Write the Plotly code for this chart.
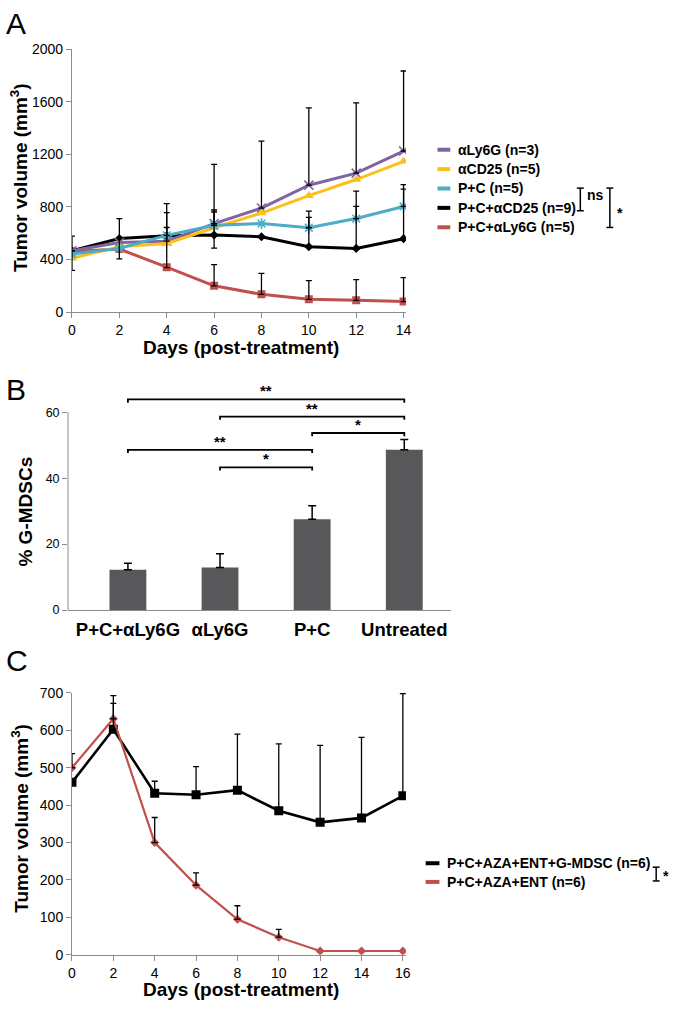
import plotly.graph_objects as go

W, H = 674, 1010
FONT = "Liberation Sans, Arial, Helvetica, sans-serif"
AXIS_GREY = "#8c8c8c"
PURPLE = "#8064a2"
YELLOW = "#fdbf1a"
CYAN = "#4bacc6"
BLACK = "#000000"
RED = "#c0504d"
BAR_GREY = "#58585a"

# ---- panel A: tumour volume, depletion experiment ----
days_a = [0, 2, 4, 6, 8, 10, 12, 14]
names_a = ["αLy6G (n=3)", "αCD25 (n=5)", "P+C (n=5)", "P+C+αCD25 (n=9)", "P+C+αLy6G (n=5)"]
ly6g = [467, 530, 540, 674, 792, 966, 1058, 1226]
cd25 = [410, 497, 522, 642, 754, 886, 1009, 1148]
pc = [442, 485, 584, 661, 674, 642, 712, 804]
pc_cd25 = [467, 560, 582, 587, 574, 497, 485, 559]
pc_ly6g = [462, 480, 342, 200, 135, 97, 90, 80]

ly6g_err = [112, None, 217, 450, 509, 589, 535, 609]
pc_err = [None, None, 60, 116, None, 79, 92, 132]
pc_cd25_err = [None, 152, 244, 175, None, 272, 436, 412]
pc_cd25_err_minus = [150, 155, 244, 100, None, None, None, None]
pc_ly6g_err = [None, None, None, 162, 159, 143, 157, 182]

# ---- panel B: % G-MDSCs ----
groups_b = ["P+C+αLy6G", "αLy6G", "P+C", "Untreated"]
gmdsc = [12.2, 12.9, 27.5, 48.6]
gmdsc_err = [2.0, 4.2, 4.1, 3.1]
sig_left = [0, 1, 2, 0, 1]
sig_right = [3, 3, 3, 2, 2]
sig_height = [63.9, 58.7, 53.7, 48.6, 43.3]
sig_label = ["**", "**", "*", "**", "*"]

# ---- panel C: G-MDSC add-back ----
days_c = [0, 2, 4, 6, 8, 10, 12, 14, 16]
names_c = ["P+C+AZA+ENT+G-MDSC (n=6)", "P+C+AZA+ENT (n=6)"]
addback = [461, 603, 432, 428, 440, 385, 354, 366, 425]
addback_err = [None, 90, 32, 75, 150, 179, 206, 215, 273]
aza_ent = [500, 631, 300, 186, 95, 47, 10, 10, 10]
aza_ent_err = [38, 41, 67, 33, 36, 21, None, None, None]


def px(x):
    return x / W


def py(y):
    return 1 - y / H


def err_trace(xs, ys, up, down, xaxis, yaxis, width=3):
    # only the points that actually carry a bar, so no stray caps
    keep = [i for i in range(len(xs))
            if up[i] is not None or (down is not None and down[i] is not None)]
    plus = [up[i] or 0 for i in keep]
    minus = [(down[i] or 0) if down is not None else 0 for i in keep]
    return go.Scatter(
        x=[xs[i] for i in keep], y=[ys[i] for i in keep],
        mode="markers", marker=dict(size=1, opacity=0),
        error_y=dict(type="data", array=plus, arrayminus=minus, symmetric=False,
                     color=BLACK, thickness=1.3, width=width),
        xaxis=xaxis, yaxis=yaxis, showlegend=False, hoverinfo="skip",
    )


fig = go.Figure()

# panel A lines (bottom to top)
series_a = [
    (names_a[4], pc_ly6g, RED, "square", 8, 0),
    (names_a[3], pc_cd25, BLACK, "diamond", 7, 0),
    (names_a[0], ly6g, PURPLE, "x-thin-open", 9, 1.6),
    (names_a[1], cd25, YELLOW, "triangle-up", 9, 0),
    (names_a[2], pc, CYAN, "asterisk-open", 9, 1.6),
]
for name, vals, color, symbol, size, lw in series_a:
    fig.add_trace(go.Scatter(
        x=days_a, y=vals, name=name, mode="lines+markers",
        line=dict(color=color, width=3),
        marker=dict(symbol=symbol, size=size, color=color,
                    line=dict(color=color, width=lw)),
        xaxis="x", yaxis="y", showlegend=False,
    ))

fig.add_trace(err_trace(days_a, ly6g, ly6g_err, None, "x", "y"))
fig.add_trace(err_trace(days_a, pc, pc_err, None, "x", "y"))
fig.add_trace(err_trace(days_a, pc_cd25, pc_cd25_err, pc_cd25_err_minus, "x", "y"))
fig.add_trace(err_trace(days_a, pc_ly6g, pc_ly6g_err, None, "x", "y"))

# panel B bars
fig.add_trace(go.Bar(
    x=groups_b, y=gmdsc, width=0.4, marker=dict(color=BAR_GREY, line_width=0),
    xaxis="x2", yaxis="y2", showlegend=False,
))
fig.add_trace(go.Scatter(
    x=groups_b, y=gmdsc, mode="markers", marker=dict(size=1, opacity=0),
    error_y=dict(type="data", array=gmdsc_err, arrayminus=[0] * len(gmdsc),
                 symmetric=False, color=BLACK, thickness=1.5, width=4),
    xaxis="x2", yaxis="y2", showlegend=False, hoverinfo="skip",
))
for l, r, h in zip(sig_left, sig_right, sig_height):
    fig.add_trace(go.Scatter(
        x=[groups_b[l], groups_b[l], groups_b[r], groups_b[r]],
        y=[h - 1.0, h, h, h - 1.0], mode="lines",
        line=dict(color=BLACK, width=1.8), xaxis="x2", yaxis="y2",
        showlegend=False, hoverinfo="skip",
    ))

# panel C lines
fig.add_trace(go.Scatter(
    x=days_c, y=addback, name=names_c[0], mode="lines+markers",
    line=dict(color=BLACK, width=2.6), marker=dict(symbol="square", size=9, color=BLACK),
    xaxis="x3", yaxis="y3", showlegend=False,
))
fig.add_trace(go.Scatter(
    x=days_c, y=aza_ent, name=names_c[1], mode="lines+markers",
    line=dict(color=RED, width=2.2), marker=dict(symbol="diamond", size=7, color=RED),
    xaxis="x3", yaxis="y3", showlegend=False,
))
fig.add_trace(err_trace(days_c, addback, addback_err, None, "x3", "y3"))
fig.add_trace(err_trace(days_c, aza_ent, aza_ent_err, None, "x3", "y3"))

axis_style = dict(
    showline=True, linecolor=AXIS_GREY, linewidth=1, ticks="outside", ticklen=5,
    tickcolor=AXIS_GREY, showgrid=False, zeroline=False,
    tickfont=dict(size=14, color=BLACK, family=FONT),
)

annotations = []
shapes = []

# panel letters
for letter, y in [("A", 16), ("B", 388), ("C", 663)]:
    annotations.append(dict(text=letter, x=px(0), y=py(y), xref="paper", yref="paper",
                            xanchor="left", yanchor="middle", showarrow=False,
                            font=dict(size=30, color=BLACK)))

# axis titles
bold_title = dict(size=19, color=BLACK, family=FONT, weight="bold")
for text, x, y, angle in [
    ("Days (post-treatment)", 241, 345, 0),
    ("Tumor volume (mm<sup>3</sup>)", 16, 172, -90),
    ("% G-MDSCs", 22, 512, -90),
    ("Days (post-treatment)", 241, 997, 0),
    ("Tumor volume (mm<sup>3</sup>)", 16, 823, -90),
]:
    annotations.append(dict(text=text, x=px(x), y=py(y), xref="paper", yref="paper",
                            xanchor="center", yanchor="middle", textangle=angle,
                            showarrow=False, font=bold_title))

# panel A legend
legend_font = dict(size=14, color=BLACK, family=FONT, weight="bold")
legend_colors_a = [PURPLE, YELLOW, CYAN, BLACK, RED]
for i, (name, color) in enumerate(zip(names_a, legend_colors_a)):
    yy = 144 + i * 19.7
    shapes.append(dict(type="line", xref="paper", yref="paper", x0=px(440), x1=px(453),
                       y0=py(yy), y1=py(yy), line=dict(color=color, width=4)))
    annotations.append(dict(text=name, x=px(459), y=py(yy), xref="paper", yref="paper",
                            xanchor="left", yanchor="middle", showarrow=False, font=legend_font))


def bracket(x, y0, y1, cap=3.5):
    line = dict(color=BLACK, width=1.5)
    return [
        dict(type="line", xref="paper", yref="paper", x0=px(x), x1=px(x),
             y0=py(y0), y1=py(y1), line=line),
        dict(type="line", xref="paper", yref="paper", x0=px(x - cap), x1=px(x + cap),
             y0=py(y0), y1=py(y0), line=line),
        dict(type="line", xref="paper", yref="paper", x0=px(x - cap), x1=px(x + cap),
             y0=py(y1), y1=py(y1), line=line),
    ]


shapes += bracket(585, 183, 206)
shapes += bracket(615, 183, 223)
shapes += bracket(662, 873, 887)
for text, x, y in [("ns", 590, 190), ("*", 620, 208), ("*", 667, 882)]:
    annotations.append(dict(text=text, x=px(x), y=py(y), xref="paper", yref="paper",
                            xanchor="left", yanchor="middle", showarrow=False, font=legend_font))

# panel C legend
for i, (name, color) in enumerate(zip(names_c, [BLACK, RED])):
    yy = 869 + i * 19
    shapes.append(dict(type="line", xref="paper", yref="paper", x0=px(428), x1=px(442),
                       y0=py(yy), y1=py(yy), line=dict(color=color, width=4)))
    annotations.append(dict(text=name, x=px(448), y=py(yy), xref="paper", yref="paper",
                            xanchor="left", yanchor="middle", showarrow=False, font=legend_font))

# panel B star labels
for l, r, h, lab in zip(sig_left, sig_right, sig_height, sig_label):
    annotations.append(dict(text=lab, x=(l + r) / 2, y=h, xref="x2", yref="y2",
                            xanchor="center", yanchor="bottom", yshift=-2, showarrow=False,
                            font=dict(size=15, color=BLACK, family=FONT, weight="bold")))

# panel B y axis line (stops at 60)
shapes.append(dict(type="line", xref="x2 domain", yref="y2", x0=0, x1=0, y0=0, y1=60,
                   line=dict(color=AXIS_GREY, width=1)))

fig.update_layout(
    width=W, height=H,
    margin=dict(l=0, r=0, t=0, b=0),
    paper_bgcolor="white", plot_bgcolor="white",
    font=dict(family=FONT, color=BLACK),
    showlegend=False,
    xaxis=dict(axis_style, domain=[px(69), px(408)], range=[0, 14.1], anchor="y",
               tickvals=days_a),
    yaxis=dict(axis_style, domain=[py(309), py(42)], range=[0, 2000], dtick=400, anchor="x"),
    xaxis2=dict(axis_style, domain=[px(65), px(454)], range=[-0.65, 3.51], anchor="y2",
                ticks="", tickangle=0, ticklabelstandoff=3,
                tickfont=dict(size=18.5, color=BLACK, family=FONT, weight="bold")),
    yaxis2=dict(axis_style, domain=[py(611.7), py(394)], range=[0, 65], showline=False,
                tickvals=[0, 20, 40, 60], anchor="x2",
                tickfont=dict(size=12.5, color=BLACK, family=FONT)),
    xaxis3=dict(axis_style, domain=[px(69), px(408)], range=[0, 16.15], anchor="y3",
                tickvals=days_c),
    yaxis3=dict(axis_style, domain=[py(962), py(696)], range=[0, 700], dtick=100, anchor="x3"),
    annotations=annotations,
    shapes=shapes,
)

fig.write_html("out.html", config={"displayModeBar": False},
               post_script="document.body.style.margin='0px';")
